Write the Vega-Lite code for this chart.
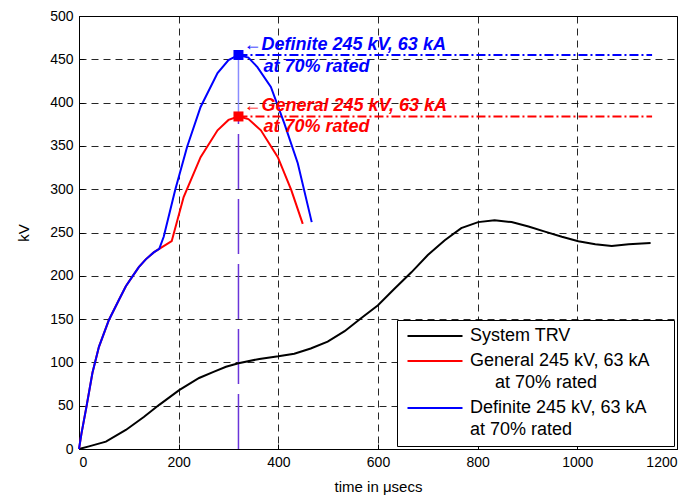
{
  "$schema": "https://vega.github.io/schema/vega-lite/v6.json",
  "width": 598,
  "height": 433,
  "autosize": {"type": "none"},
  "padding": {"left": 79, "top": 16, "right": 19, "bottom": 46},
  "background": "white",
  "config": {
    "font": "Liberation Sans",
    "view": {"stroke": "#000", "strokeWidth": 1},
    "style": {"guide-label": {"lineHeight": 22}},
    "axis": {
      "labelFont": "Liberation Sans",
      "labelFontSize": 14,
      "labelColor": "#000",
      "titleFont": "Liberation Sans",
      "titleFontSize": 15,
      "titleFontWeight": "normal",
      "titleColor": "#000",
      "domainColor": "#000",
      "tickColor": "#000",
      "tickSize": -5,
      "labelPadding": 11,
      "grid": true,
      "gridColor": "#000",
      "gridOpacity": 0.85,
      "gridDash": [7, 5],
      "gridWidth": 1
    }
  },
  "datasets": {
    "curves": [
      {"series": "System TRV", "t": 0, "kv": 0},
      {"series": "System TRV", "t": 20, "kv": 3},
      {"series": "System TRV", "t": 54, "kv": 8.5},
      {"series": "System TRV", "t": 94, "kv": 22},
      {"series": "System TRV", "t": 130, "kv": 37},
      {"series": "System TRV", "t": 161, "kv": 51},
      {"series": "System TRV", "t": 201, "kv": 68},
      {"series": "System TRV", "t": 241, "kv": 82},
      {"series": "System TRV", "t": 270, "kv": 89},
      {"series": "System TRV", "t": 295, "kv": 95},
      {"series": "System TRV", "t": 320, "kv": 99},
      {"series": "System TRV", "t": 362, "kv": 104},
      {"series": "System TRV", "t": 400, "kv": 107},
      {"series": "System TRV", "t": 432, "kv": 110},
      {"series": "System TRV", "t": 465, "kv": 116},
      {"series": "System TRV", "t": 499, "kv": 124},
      {"series": "System TRV", "t": 533, "kv": 136},
      {"series": "System TRV", "t": 566, "kv": 151},
      {"series": "System TRV", "t": 600, "kv": 166},
      {"series": "System TRV", "t": 633, "kv": 185},
      {"series": "System TRV", "t": 667, "kv": 204},
      {"series": "System TRV", "t": 700, "kv": 224},
      {"series": "System TRV", "t": 734, "kv": 241},
      {"series": "System TRV", "t": 767, "kv": 255},
      {"series": "System TRV", "t": 801, "kv": 262},
      {"series": "System TRV", "t": 834, "kv": 264},
      {"series": "System TRV", "t": 868, "kv": 262},
      {"series": "System TRV", "t": 902, "kv": 257},
      {"series": "System TRV", "t": 935, "kv": 251},
      {"series": "System TRV", "t": 969, "kv": 245},
      {"series": "System TRV", "t": 1002, "kv": 240},
      {"series": "System TRV", "t": 1036, "kv": 236.5},
      {"series": "System TRV", "t": 1069, "kv": 234.5},
      {"series": "System TRV", "t": 1103, "kv": 236.5},
      {"series": "System TRV", "t": 1147, "kv": 238},

      {"series": "General", "t": 0, "kv": 0},
      {"series": "General", "t": 5, "kv": 18},
      {"series": "General", "t": 15, "kv": 49},
      {"series": "General", "t": 27, "kv": 88},
      {"series": "General", "t": 40, "kv": 118},
      {"series": "General", "t": 60, "kv": 149},
      {"series": "General", "t": 80, "kv": 172},
      {"series": "General", "t": 94, "kv": 188},
      {"series": "General", "t": 107, "kv": 199},
      {"series": "General", "t": 120, "kv": 210},
      {"series": "General", "t": 134, "kv": 219},
      {"series": "General", "t": 150, "kv": 227},
      {"series": "General", "t": 161, "kv": 231},
      {"series": "General", "t": 186, "kv": 240},
      {"series": "General", "t": 210, "kv": 291},
      {"series": "General", "t": 244, "kv": 337},
      {"series": "General", "t": 278, "kv": 368},
      {"series": "General", "t": 300, "kv": 380},
      {"series": "General", "t": 320, "kv": 384},
      {"series": "General", "t": 340, "kv": 381},
      {"series": "General", "t": 365, "kv": 368},
      {"series": "General", "t": 399, "kv": 337},
      {"series": "General", "t": 426, "kv": 299},
      {"series": "General", "t": 449, "kv": 260},

      {"series": "Definite", "t": 0, "kv": 0},
      {"series": "Definite", "t": 5, "kv": 18},
      {"series": "Definite", "t": 15, "kv": 49},
      {"series": "Definite", "t": 27, "kv": 88},
      {"series": "Definite", "t": 40, "kv": 118},
      {"series": "Definite", "t": 60, "kv": 149},
      {"series": "Definite", "t": 80, "kv": 172},
      {"series": "Definite", "t": 94, "kv": 188},
      {"series": "Definite", "t": 107, "kv": 199},
      {"series": "Definite", "t": 120, "kv": 210},
      {"series": "Definite", "t": 134, "kv": 219},
      {"series": "Definite", "t": 150, "kv": 227},
      {"series": "Definite", "t": 161, "kv": 231},
      {"series": "Definite", "t": 170, "kv": 245},
      {"series": "Definite", "t": 193, "kv": 299},
      {"series": "Definite", "t": 217, "kv": 349},
      {"series": "Definite", "t": 244, "kv": 395},
      {"series": "Definite", "t": 278, "kv": 434},
      {"series": "Definite", "t": 300, "kv": 449},
      {"series": "Definite", "t": 320, "kv": 455},
      {"series": "Definite", "t": 340, "kv": 452},
      {"series": "Definite", "t": 358, "kv": 441},
      {"series": "Definite", "t": 385, "kv": 418},
      {"series": "Definite", "t": 412, "kv": 376},
      {"series": "Definite", "t": 439, "kv": 330},
      {"series": "Definite", "t": 467, "kv": 262}
    ],
    "levels": [
      {"series": "General", "t": 320, "t2": 1150, "kv": 384},
      {"series": "Definite", "t": 320, "t2": 1150, "kv": 455}
    ],
    "marker": [
      {"part": "lower", "t": 320, "kv": 0, "kv2": 384},
      {"part": "upper", "t": 320, "kv": 384, "kv2": 455}
    ],
    "notes": [
      {"series": "Definite", "t": 330, "kv": 467, "text": "←Definite 245 kV, 63 kA"},
      {"series": "Definite", "t": 370, "kv": 441, "text": "at 70% rated"},
      {"series": "General", "t": 330, "kv": 396, "text": "←General 245 kV, 63 kA"},
      {"series": "General", "t": 370, "kv": 372, "text": "at 70% rated"}
    ]
  },
  "layer": [
    {
      "data": {"name": "marker"},
      "transform": [{"filter": "datum.part == 'lower'"}],
      "mark": {"type": "rule", "color": "#6a35d9", "strokeWidth": 1.5, "strokeDash": [55, 10]},
      "encoding": {
        "x": {"field": "t", "type": "quantitative"},
        "y": {"field": "kv", "type": "quantitative"},
        "y2": {"field": "kv2"}
      }
    },
    {
      "data": {"name": "marker"},
      "transform": [{"filter": "datum.part == 'upper'"}],
      "mark": {"type": "rule", "color": "#8a8cff", "strokeWidth": 1.5},
      "encoding": {
        "x": {"field": "t", "type": "quantitative"},
        "y": {"field": "kv", "type": "quantitative"},
        "y2": {"field": "kv2"}
      }
    },
    {
      "data": {"name": "levels"},
      "transform": [{"filter": "datum.series == 'General'"}],
      "mark": {"type": "rule", "color": "#ff0000", "strokeWidth": 2, "strokeDash": [9, 3, 2, 3]},
      "encoding": {
        "x": {"field": "t", "type": "quantitative"},
        "x2": {"field": "t2"},
        "y": {"field": "kv", "type": "quantitative"}
      }
    },
    {
      "data": {"name": "levels"},
      "transform": [{"filter": "datum.series == 'Definite'"}],
      "mark": {"type": "rule", "color": "#0000ff", "strokeWidth": 2, "strokeDash": [9, 3, 2, 3]},
      "encoding": {
        "x": {"field": "t", "type": "quantitative"},
        "x2": {"field": "t2"},
        "y": {"field": "kv", "type": "quantitative"}
      }
    },
    {
      "data": {"name": "curves"},
      "mark": {"type": "line", "strokeWidth": 2},
      "encoding": {
        "x": {
          "field": "t", "type": "quantitative",
          "scale": {"domain": [0, 1200], "nice": false},
          "axis": {"values": [0, 200, 400, 600, 800, 1000, 1200], "format": "d", "title": "time in μsecs", "titleFontSize": 15, "titlePadding": 10}
        },
        "y": {
          "field": "kv", "type": "quantitative",
          "scale": {"domain": [0, 500], "nice": false},
          "axis": {"values": [0, 50, 100, 150, 200, 250, 300, 350, 400, 450, 500], "format": "d", "title": "kV", "titleFontSize": 15, "titlePadding": 18}
        },
        "color": {
          "field": "series", "type": "nominal",
          "scale": {"domain": ["System TRV", "General", "Definite"], "range": ["#000000", "#ff0000", "#0000ff"]},
          "legend": {
            "title": null,
            "orient": "bottom-right",
            "offset": 3,
            "padding": 7,
            "fillColor": "white",
            "strokeColor": "#000",
            "symbolType": "M-1,0L9,0",
            "symbolSize": 121,
            "symbolStrokeWidth": 2,
            "labelFont": "Liberation Sans",
            "labelFontSize": 18,
            "labelColor": "#000",
            "labelOffset": 48,
            "labelLimit": 300,
            "rowPadding": 7,
            "labelExpr": "datum.value == 'General' ? ['General 245 kV, 63 kA', '\u200b\u00a0\u00a0\u00a0\u00a0\u00a0at 70% rated'] : datum.value == 'Definite' ? ['Definite 245 kV, 63 kA\u00a0\u00a0\u00a0\u00a0\u200b', 'at 70% rated'] : datum.value"
          }
        }
      }
    },
    {
      "data": {"name": "levels"},
      "transform": [{"filter": "datum.series == 'General'"}],
      "mark": {"type": "square", "color": "#ff0000", "filled": true, "opacity": 1, "size": 100},
      "encoding": {
        "x": {"field": "t", "type": "quantitative"},
        "y": {"field": "kv", "type": "quantitative"}
      }
    },
    {
      "data": {"name": "levels"},
      "transform": [{"filter": "datum.series == 'Definite'"}],
      "mark": {"type": "square", "color": "#0000ff", "filled": true, "opacity": 1, "size": 100},
      "encoding": {
        "x": {"field": "t", "type": "quantitative"},
        "y": {"field": "kv", "type": "quantitative"}
      }
    },
    {
      "data": {"name": "notes"},
      "transform": [{"filter": "datum.series == 'General'"}],
      "mark": {"type": "text", "color": "#ff0000", "align": "left", "baseline": "middle", "font": "Liberation Sans", "fontSize": 18, "fontWeight": "bold", "fontStyle": "italic"},
      "encoding": {
        "x": {"field": "t", "type": "quantitative"},
        "y": {"field": "kv", "type": "quantitative"},
        "text": {"field": "text"}
      }
    },
    {
      "data": {"name": "notes"},
      "transform": [{"filter": "datum.series == 'Definite'"}],
      "mark": {"type": "text", "color": "#0000ff", "align": "left", "baseline": "middle", "font": "Liberation Sans", "fontSize": 18, "fontWeight": "bold", "fontStyle": "italic"},
      "encoding": {
        "x": {"field": "t", "type": "quantitative"},
        "y": {"field": "kv", "type": "quantitative"},
        "text": {"field": "text"}
      }
    }
  ]
}
